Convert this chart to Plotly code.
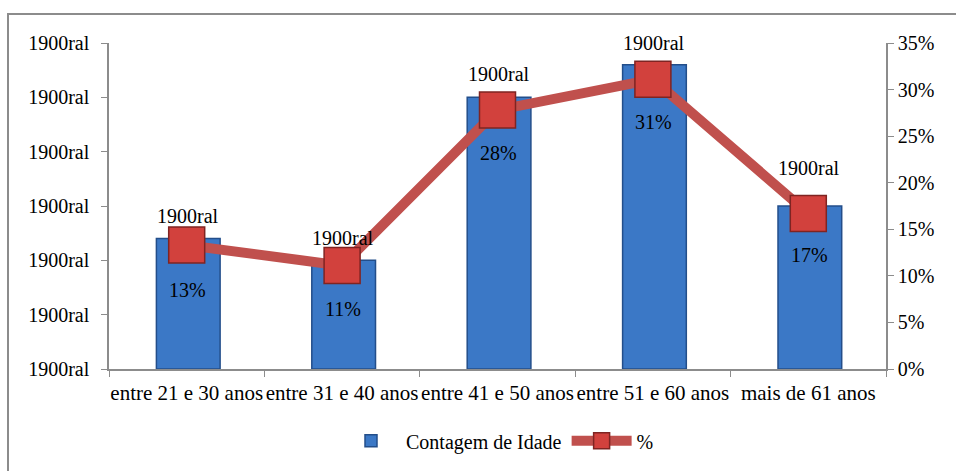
import plotly.graph_objects as go

categories = ["entre 21 e 30 anos", "entre 31 e 40 anos", "entre 41 e 50 anos",
              "entre 51 e 60 anos", "mais de 61 anos"]
counts = [24, 20, 50, 56, 30]
percents = [0.133, 0.111, 0.278, 0.311, 0.167]
pct_labels = ["13%", "11%", "28%", "31%", "17%"]
count_label = "1900ral"
left_ticks = [0, 10, 20, 30, 40, 50, 60]
right_ticks = [0, 0.05, 0.10, 0.15, 0.20, 0.25, 0.30, 0.35]

FONT = '"Liberation Serif", "Times New Roman", serif'
FS = 20

fig = go.Figure()
fig.add_trace(go.Bar(
    x=categories, y=counts, name="Contagem de Idade",
    width=0.41, offset=-0.195,
    marker=dict(color="#3B78C6", line=dict(color="#234E8A", width=1.5)),
))
fig.add_trace(go.Scatter(
    x=categories, y=percents, name="%", yaxis="y2", mode="lines+markers",
    line=dict(color="#C0504D", width=10),
    marker=dict(symbol="square", size=36, color="#D2413D",
                line=dict(color="#7F2422", width=1.5)),
))

annotations = []
label_shift = [23, 22, 23, 22, 38]
for c, v, s in zip(categories, counts, label_shift):
    annotations.append(dict(x=c, y=v, xref="x", yref="y", text=count_label,
                            showarrow=False, yshift=s, xshift=1,
                            font=dict(family=FONT, size=FS, color="black")))
pct_shift = [-45, -43, -43, -43, -42]
for c, v, t, s in zip(categories, percents, pct_labels, pct_shift):
    annotations.append(dict(x=c, y=v, xref="x", yref="y2", text=t,
                            showarrow=False, yshift=s, xshift=1,
                            font=dict(family=FONT, size=FS, color="black")))

axis_common = dict(showline=True, linecolor="#8C8C8C", linewidth=1.5,
                   ticks="outside", ticklen=6, tickcolor="#8C8C8C",
                   showgrid=False, automargin=False)

fig.update_layout(
    width=956, height=471,
    margin=dict(l=109, r=70, t=43, b=102, autoexpand=False),
    paper_bgcolor="white", plot_bgcolor="white",
    font=dict(family=FONT, size=FS, color="black"),
    showlegend=True,
    legend=dict(orientation="h", x=0.5, xanchor="center", y=-0.22, yanchor="middle",
                font=dict(family=FONT, size=FS, color="black"), itemwidth=60,
                traceorder="normal"),
    xaxis=dict(type="category", tickson="boundaries", ticklabelstandoff=4,
               tickangle=0,
               tickfont=dict(family=FONT, size=21, color="black"), **axis_common),
    yaxis=dict(range=[0, 60], tickvals=left_ticks,
               ticktext=[count_label] * len(left_ticks), zeroline=False,
               ticklabelstandoff=8,
               tickfont=dict(family=FONT, size=FS, color="black"), **axis_common),
    yaxis2=dict(range=[0, 0.35], tickvals=right_ticks, tickformat=".0%",
                overlaying="y", side="right", zeroline=False,
                tickfont=dict(family=FONT, size=FS, color="black"), **axis_common),
    annotations=annotations,
    shapes=[dict(type="rect", xref="paper", yref="paper",
                 x0=(8 - 109) / 777, x1=1.2, y0=-0.5, y1=1 + (43 - 14) / 326,
                 line=dict(color="#8C8C8C", width=2), fillcolor="rgba(0,0,0,0)",
                 layer="below")],
)

fig.write_html("out.html", config={"displayModeBar": False},
               post_script="document.body.style.margin='0';")
